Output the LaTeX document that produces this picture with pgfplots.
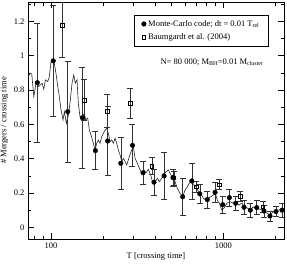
\documentclass[border=0pt]{standalone}
\usepackage{fontspec}
\setmainfont{Liberation Serif}
\usepackage{pgfplots}
\usepackage{pgfplotstable}
\pgfplotsset{compat=1.18}

\pgfplotstableread{
T v
73.5 0.869
75.2 0.898
77.3 0.894
79.4 0.762
82.2 0.849
84.8 0.820
88.7 0.840
90.7 0.805
92.7 0.859
95.7 0.849
97.7 0.878
100.0 0.966
103.7 0.971
106.5 0.907
109.4 0.820
111.7 0.762
114.3 0.684
117.4 0.626
119.5 0.674
122.7 0.606
126.7 0.665
129.4 0.742
132.4 0.840
135.4 0.888
138.3 0.840
141.5 0.859
144.0 0.723
147.3 0.645
150.7 0.636
156.1 0.665
159.0 0.626
163.3 0.636
166.9 0.567
170.7 0.538
176.0 0.490
180.0 0.451
184.2 0.490
188.2 0.509
192.5 0.490
196.9 0.528
201.2 0.548
205.8 0.567
210.5 0.577
215.0 0.548
220.0 0.499
225.1 0.509
229.9 0.490
235.2 0.519
240.6 0.490
245.9 0.451
251.5 0.422
257.3 0.383
262.8 0.402
268.9 0.383
275.1 0.363
284.8 0.412
294.1 0.451
300.5 0.470
307.4 0.402
317.0 0.373
325.6 0.344
336.1 0.315
346.6 0.334
356.0 0.318
367.0 0.338
379.0 0.305
389.4 0.257
401.6 0.266
414.1 0.286
425.3 0.266
439.1 0.286
448.6 0.305
465.0 0.324
479.6 0.334
490.6 0.315
508.6 0.286
524.6 0.266
540.8 0.227
560.8 0.198
581.4 0.178
599.5 0.217
618.2 0.237
634.9 0.257
655.6 0.266
676.1 0.247
694.4 0.237
716.0 0.208
739.3 0.198
765.5 0.169
793.6 0.159
818.3 0.169
845.1 0.178
875.0 0.188
898.7 0.198
923.1 0.159
948.0 0.140
978.8 0.101
1009 0.111
1046 0.140
1094 0.149
1138 0.142
1185 0.148
1234 0.130
1284 0.142
1319 0.118
1373 0.113
1429 0.101
1488 0.118
1548 0.113
1612 0.107
1677 0.101
1723 0.095
1793 0.083
1866 0.072
1943 0.089
2022 0.095
2105 0.101
2191 0.107
2250 0.107
}\linedata

\pgfplotstableread{
T v e
83.3 0.843 0.345
103 0.970 0.325
125 0.674 0.295
152 0.639 0.295
181 0.447 0.110
213 0.503 0.200
254 0.373 0.150
297 0.478 0.120
342 0.318 0.067
396 0.263 0.075
453 0.300 0.136
510 0.290 0.050
581 0.178 0.110
656 0.270 0.106
730 0.195 0.055
807 0.162 0.050
895 0.204 0.060
992 0.132 0.050
1084 0.173 0.048
1180 0.140 0.040
1318 0.117 0.043
1435 0.100 0.040
1563 0.115 0.040
1722 0.095 0.035
1866 0.066 0.030
2022 0.092 0.030
2192 0.100 0.040
}\mcdata

\pgfplotstableread{
T v e
116 1.178 0.185
156 0.742 0.120
212 0.678 0.097
289 0.723 0.085
385 0.357 0.050
516 0.288 0.040
694 0.237 0.030
950 0.249 0.030
1250 0.180 0.030
1694 0.120 0.030
}\bgdata

\begin{document}
\begin{tikzpicture}
\begin{axis}[
  name=ax,
  scale only axis,
  width=256pt, height=237pt,
  xmode=log,
  xmin=73.5, xmax=2250,
  ymin=-0.068, ymax=1.313,
  xtick={100,1000},
  xticklabels={100,1000},
  minor xtick={80,90,200,300,400,500,600,700,800,900,2000},
  ytick={0,0.2,0.4,0.6,0.8,1,1.2},
  yticklabels={0,0.2,0.4,0.6,0.8,1,1.2},
  minor ytick={0.1,0.3,0.5,0.7,0.9,1.1,1.3},
  tick align=inside,
  major tick length=6pt,
  minor tick length=3.5pt,
  axis line style={line width=0.6pt},
  every tick/.style={black, line width=0.5pt},
  tick label style={font=\fontsize{8.5}{10}\selectfont},
  /pgf/number format/assume math mode=true,
  xlabel={T [crossing time]},
  ylabel={\# Mergers / crossing time},
  label style={font=\fontsize{8.5}{10}\selectfont},
  xlabel style={at={(axis description cs:0.5,-0.072)}, anchor=center},
  ylabel style={at={(axis description cs:-0.092,0.5)}, anchor=center},
  legend style={at={(0.94,0.945)}, anchor=north east, draw=black, line width=0.5pt,
    font=\fontsize{8.5}{10}\selectfont, row sep=2pt, inner xsep=7pt, inner ysep=3pt},
  legend cell align=left,
]
\addplot[black!85, line width=0.6pt, forget plot] table[x=T,y=v] {\linedata};
\addplot[only marks, mark=*, mark size=2.3pt, black,
  error bars/.cd, y dir=both, y explicit,
  error bar style={black!80, line width=0.5pt},
  error mark options={black!80, mark size=3pt, line width=0.5pt, rotate=90}]
  table[x=T,y=v,y error=e] {\mcdata};
\addplot[only marks, mark=square, mark size=1.8pt, mark options={fill=white, line width=0.5pt}, black,
  error bars/.cd, y dir=both, y explicit,
  error bar style={black!80, line width=0.5pt},
  error mark options={black!80, mark size=3pt, line width=0.5pt, rotate=90}]
  table[x=T,y=v,y error=e] {\bgdata};
\legend{Monte-Carlo code; dt = 0.01 T\textsubscript{rel}, Baumgardt et al. (2004)}
\node[font=\fontsize{8.5}{10}\selectfont, anchor=center] at (rel axis cs:0.719,0.747)
  {N= 80 000; M\textsubscript{BH}=0.01 M\textsubscript{cluster}};
\end{axis}
\pgfresetboundingbox
\path[use as bounding box] ([xshift=-28pt,yshift=-24pt]ax.south west) rectangle ([xshift=3pt,yshift=2pt]ax.north east);
\end{tikzpicture}
\end{document}
